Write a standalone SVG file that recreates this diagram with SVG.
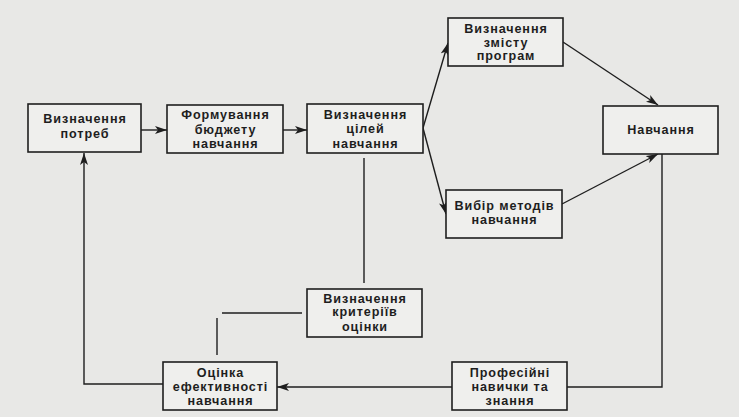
<svg xmlns="http://www.w3.org/2000/svg" width="739" height="417" viewBox="0 0 739 417">
<defs>
<style>
.bx{fill:#efefed;stroke:#1e1e1e;stroke-width:1.6}
.t{font-family:"Liberation Sans",Arial,sans-serif;font-weight:bold;font-size:12.6px;letter-spacing:0.9px;fill:#1e1e1e;text-anchor:middle}
.c{fill:none;stroke:#1e1e1e;stroke-width:1.4}
</style>
<marker id="ah" viewBox="0 0 12 8" refX="12" refY="4" markerWidth="12" markerHeight="8" markerUnits="userSpaceOnUse" orient="auto">
<path d="M0,0 L12,4 L0,8 L3,4 Z" fill="#1e1e1e"/>
</marker>
</defs>
<rect x="0" y="0" width="739" height="417" fill="#e8e8e6"/>
<g id="connectors">
<line class="c" x1="141" y1="130" x2="167" y2="130" marker-end="url(#ah)"/>
<line class="c" x1="283" y1="130" x2="307" y2="130" marker-end="url(#ah)"/>
<line class="c" x1="423" y1="128" x2="448" y2="43" marker-end="url(#ah)"/>
<line class="c" x1="423" y1="128" x2="446" y2="214" marker-end="url(#ah)"/>
<line class="c" x1="563" y1="42" x2="658" y2="105" marker-end="url(#ah)"/>
<line class="c" x1="562" y1="204" x2="658" y2="154" marker-end="url(#ah)"/>
<polyline class="c" points="662,154 662,387 567,387"/>
<line class="c" x1="452" y1="387" x2="277" y2="387" marker-end="url(#ah)"/>
<polyline class="c" points="163,384 84,384 84,153" marker-end="url(#ah)"/>
<line class="c" x1="364" y1="158" x2="364" y2="283"/>
<line class="c" x1="302" y1="313" x2="222" y2="313"/>
<line class="c" x1="217" y1="318" x2="217" y2="355"/>
</g>
<g id="n1">
<rect class="bx" x="28" y="104" width="113" height="48"/>
<text class="t" x="85" y="123">Визначення</text>
<text class="t" x="85" y="138">потреб</text>
</g>
<g id="n2">
<rect class="bx" x="167" y="105" width="116" height="48"/>
<text class="t" x="225.5" y="119">Формування</text>
<text class="t" x="225.5" y="133.5">бюджету</text>
<text class="t" x="225.5" y="148">навчання</text>
</g>
<g id="n3">
<rect class="bx" x="307" y="104" width="116" height="49"/>
<text class="t" x="365.5" y="118.5">Визначення</text>
<text class="t" x="365.5" y="133">цілей</text>
<text class="t" x="365.5" y="147.5">навчання</text>
</g>
<g id="n4">
<rect class="bx" x="448" y="18" width="115" height="48"/>
<text class="t" x="506" y="32.5">Визначення</text>
<text class="t" x="506" y="47">змісту</text>
<text class="t" x="506" y="60">програм</text>
</g>
<g id="n5">
<rect class="bx" x="446" y="190" width="116" height="48"/>
<text class="t" x="504.5" y="210">Вибір методів</text>
<text class="t" x="504.5" y="224">навчання</text>
</g>
<g id="n6">
<rect class="bx" x="603" y="106" width="115" height="48"/>
<text class="t" x="661" y="134">Навчання</text>
</g>
<g id="n7">
<rect class="bx" x="307" y="289" width="115" height="48"/>
<text class="t" x="365" y="302.5">Визначення</text>
<text class="t" x="365" y="316">критеріїв</text>
<text class="t" x="365" y="330.5">оцінки</text>
</g>
<g id="n8">
<rect class="bx" x="163" y="362" width="114" height="48"/>
<text class="t" x="220.5" y="376.5">Оцінка</text>
<text class="t" x="220.5" y="390.5">ефективності</text>
<text class="t" x="220.5" y="404.5">навчання</text>
</g>
<g id="n9">
<rect class="bx" x="452" y="362" width="115" height="48"/>
<text class="t" x="510" y="376.5">Професійні</text>
<text class="t" x="510" y="390.5">навички та</text>
<text class="t" x="510" y="404.5">знання</text>
</g>
</svg>
